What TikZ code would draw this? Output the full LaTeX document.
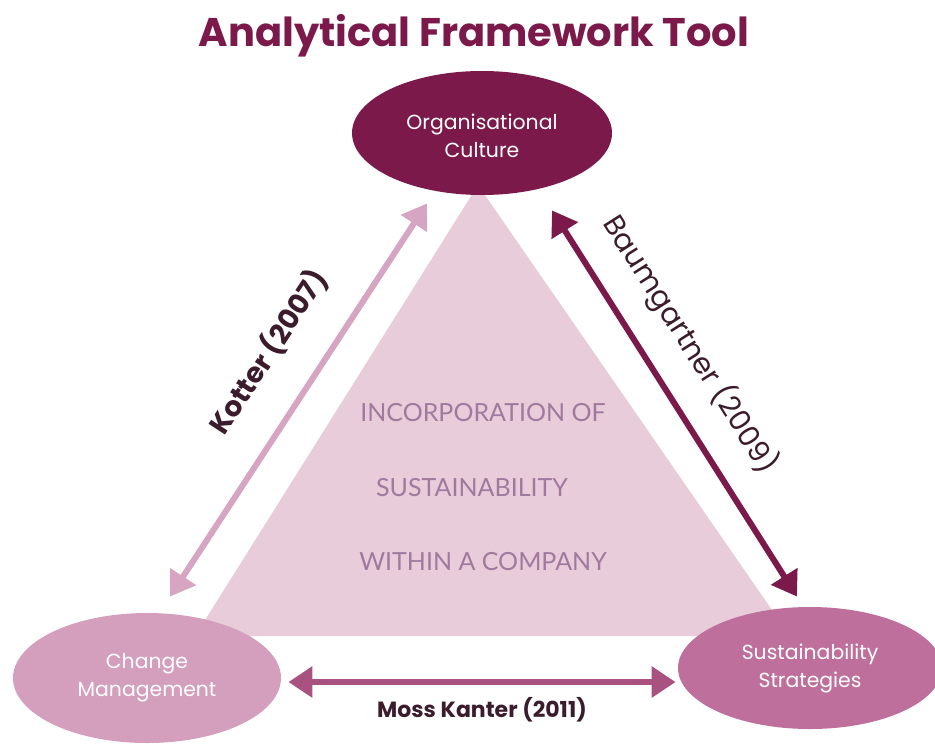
\documentclass[tikz,border=0pt]{standalone}
\usepackage{fontspec}
\setmainfont{Poppins}
\newfontfamily\thinfont{Lato}
\usetikzlibrary{arrows.meta,positioning,shapes.geometric}
\definecolor{plum}{HTML}{7B1A4A}
\definecolor{rose}{HTML}{D49EBD}
\definecolor{orchid}{HTML}{BF6F9B}
\definecolor{blush}{HTML}{E8CCDA}
\definecolor{mauve}{HTML}{A07A9E}
\definecolor{kotcol}{HTML}{D6A5C1}
\definecolor{mosscol}{HTML}{A9517F}
\definecolor{labink}{HTML}{3B1C2C}
\tikzset{
  pillar/.style={ellipse,inner xsep=-10pt,inner ysep=0pt,text=white,align=center,
    font=\fontsize{10.2}{14}\selectfont},
  link/.style={{Triangle[length=12pt,width=15pt]}-{Triangle[length=12pt,width=15pt]},line width=3pt},
  linklabel/.style={font=\fontsize{14}{16}\selectfont\bfseries,text=labink},
  core/.style={font=\thinfont\fontsize{12.5}{16}\selectfont,text=mauve},
}

\begin{document}
\begin{tikzpicture}[x=0.5pt,y=-0.5pt]
  \useasboundingbox (0,0) rectangle (935,744);
  % shared area of the three pillars
  \fill[blush] (478,185) -- (195,636) -- (790,636) -- cycle;
  \node[core] (inc1) at (483,413) {INCORPORATION OF};
  \node[core] (inc2) at (472,488) {SUSTAINABILITY};
  \node[core] (inc3) at (483,562) {WITHIN A COMPANY};
  % pillars
  \node[pillar,fill=plum,minimum width=130pt,minimum height=62pt] (org) at (482,133) {\\[-3pt]Organisational\\Culture};
  \node[pillar,fill=rose,minimum width=134pt,minimum height=65pt] (cm) at (147,678) {Change\\Management};
  \node[pillar,fill=orchid,minimum width=132pt,minimum height=61pt] (ss) at (810,668) {Sustainability\\Strategies};
  \node[font=\fontsize{20}{24}\selectfont\bfseries,text=plum] (title) at (474,36) {Analytical Framework Tool};
  % links between pillars
  \draw[link,kotcol] ([shift={(23,-16)}]cm.north) -- ([shift={(-55,8)}]org.south)
    node[linklabel,pos=0.55,sloped,above=13pt] {Kotter (2007)};
  \draw[link,plum] ([shift={(70,15)}]org.south) -- ([shift={(-13,-10)}]ss.north)
    node[linklabel,font=\fontsize{14.5}{16}\selectfont\mdseries,pos=0.41,sloped,above=9pt] {Baumgartner (2009)};
  \draw[link,mosscol] ([shift={(7,4)}]cm.east) -- ([shift={(-2,14)}]ss.west)
    node[linklabel,font=\fontsize{11}{14}\selectfont\bfseries,midway,below=3pt] {Moss Kanter (2011)};
\end{tikzpicture}
\end{document}
